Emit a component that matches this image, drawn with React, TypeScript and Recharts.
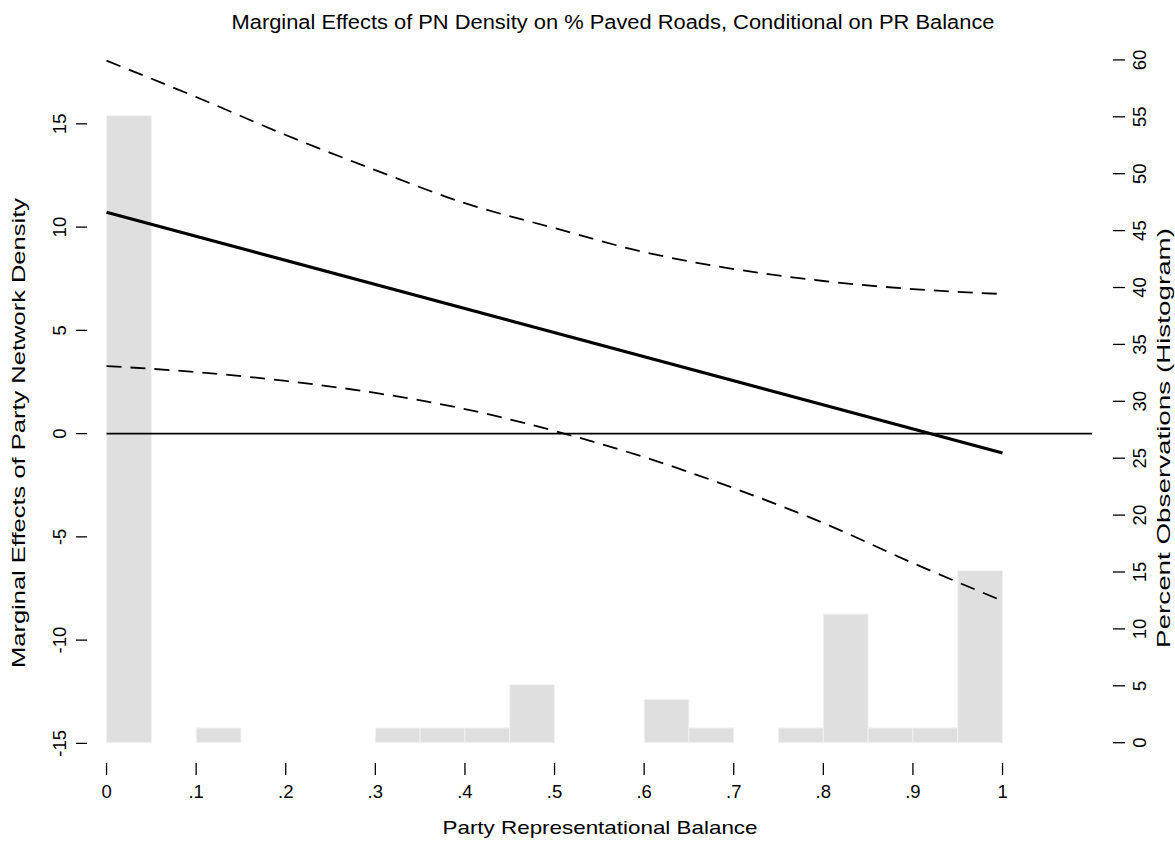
import React from "react";
import {
    ComposedChart,
    Line,
    XAxis,
    YAxis,
    ReferenceArea,
    ReferenceLine,
} from "recharts";

// marginal effect estimate and 95% bounds, read at steps of .1
const xPoints = [0, 0.1, 0.2, 0.3, 0.4, 0.5, 0.6, 0.7, 0.8, 0.9, 1];
const upperBound = [18.06, 16.3, 14.46, 12.76, 11.16, 9.95, 8.79, 7.97, 7.39, 7.0, 6.76];
const lowerBound = [3.27, 2.98, 2.55, 1.97, 1.19, 0.13, -1.14, -2.64, -4.33, -6.27, -8.1];
// straight line: only the two ends are needed
const effectEnds = [10.72, -0.94];

// histogram of PR balance (percent of observations per .05 bin)
const binStarts = [0, 0.1, 0.3, 0.35, 0.4, 0.45, 0.6, 0.65, 0.75, 0.8, 0.85, 0.9, 0.95];
const binPercents = [55.1, 1.3, 1.3, 1.3, 1.3, 5.1, 3.8, 1.3, 1.3, 11.3, 1.3, 1.3, 15.1];
const binWidth = 0.05;

const xTicks = [0, 0.1, 0.2, 0.3, 0.4, 0.5, 0.6, 0.7, 0.8, 0.9, 1];
const xTickLabels = ["0", ".1", ".2", ".3", ".4", ".5", ".6", ".7", ".8", ".9", "1"];
const leftTicks = [-15, -10, -5, 0, 5, 10, 15];
const rightTicks = [0, 5, 10, 15, 20, 25, 30, 35, 40, 45, 50, 55, 60];

const FONT = "'Liberation Sans', Arial, Helvetica, sans-serif";
const TICK_FONT = 18.5;

const rows = xPoints.map((x, i) => ({
    x,
    upper: upperBound[i],
    lower: lowerBound[i],
    effect: i === 0 ? effectEnds[0] : i === xPoints.length - 1 ? effectEnds[1] : null,
}));

function XTick({ x, payload }: any) {
    const idx = xTicks.indexOf(payload.value);
    return (
        <text x={x} y={791} textAnchor="middle" dominantBaseline="central" fontSize={TICK_FONT} fontFamily={FONT} fill="#000">
            {xTickLabels[idx]}
        </text>
    );
}

function LeftTick({ y, payload }: any) {
    return (
        <text
            transform={`translate(59, ${y}) rotate(-90)`}
            textAnchor="middle"
            dominantBaseline="central"
            fontSize={TICK_FONT}
            fontFamily={FONT}
            fill="#000"
        >
            {payload.value}
        </text>
    );
}

function RightTick({ y, payload }: any) {
    return (
        <text
            transform={`translate(1139, ${y}) rotate(-90)`}
            textAnchor="middle"
            dominantBaseline="central"
            fontSize={TICK_FONT}
            fontFamily={FONT}
            fill="#000"
        >
            {payload.value}
        </text>
    );
}

export default function App() {
    return (
        <div style={{ position: "absolute", left: 0, top: 0, width: 1175, height: 841, background: "#fff" }}>
            <ComposedChart width={1175} height={841} data={rows} margin={{ top: 40, right: 0, bottom: 0, left: 0 }}>
                {binStarts.map((s, i) => (
                    <ReferenceArea
                        key={s}
                        yAxisId="right"
                        x1={s}
                        x2={s + binWidth}
                        y1={0}
                        y2={binPercents[i]}
                        fill="#dfdfdf"
                        fillOpacity={1}
                        stroke="#f2f2f2"
                        strokeWidth={1}
                    />
                ))}
                <XAxis
                    type="number"
                    dataKey="x"
                    domain={[-0.0218, 1.1233]}
                    allowDataOverflow
                    ticks={xTicks}
                    height={78}
                    tickSize={12}
                    axisLine={false}
                    tickLine={{ stroke: "#000", strokeWidth: 1.3 }}
                    tick={<XTick />}
                />
                <YAxis
                    yAxisId="left"
                    domain={[-15.95, 19.06]}
                    allowDataOverflow
                    ticks={leftTicks}
                    width={87}
                    tickSize={11}
                    axisLine={false}
                    tickLine={{ stroke: "#000", strokeWidth: 1.3 }}
                    tick={<LeftTick />}
                />
                <YAxis
                    yAxisId="right"
                    orientation="right"
                    domain={[-1.784, 61.75]}
                    allowDataOverflow
                    ticks={rightTicks}
                    width={62}
                    tickSize={12}
                    axisLine={false}
                    tickLine={{ stroke: "#000", strokeWidth: 1.3 }}
                    tick={<RightTick />}
                />
                <ReferenceLine
                    yAxisId="left"
                    segment={[
                        { x: 0, y: 0 },
                        { x: 1.1, y: 0 },
                    ]}
                    stroke="#000"
                    strokeWidth={1.6}
                />
                <Line
                    yAxisId="left"
                    type="monotone"
                    dataKey="upper"
                    stroke="#000"
                    strokeWidth={1.8}
                    strokeDasharray="15 9"
                    dot={false}
                    activeDot={false}
                    isAnimationActive={false}
                />
                <Line
                    yAxisId="left"
                    type="monotone"
                    dataKey="lower"
                    stroke="#000"
                    strokeWidth={1.8}
                    strokeDasharray="15 9"
                    dot={false}
                    activeDot={false}
                    isAnimationActive={false}
                />
                <Line
                    yAxisId="left"
                    type="linear"
                    dataKey="effect"
                    connectNulls
                    stroke="#000"
                    strokeWidth={3.2}
                    dot={false}
                    activeDot={false}
                    isAnimationActive={false}
                />
            </ComposedChart>
            <svg
                width={1175}
                height={841}
                style={{ position: "absolute", left: 0, top: 0, pointerEvents: "none" }}
                fontFamily={FONT}
            >
                <text x={613} y={29} textAnchor="middle" fontSize={19.5} textLength={763} lengthAdjust="spacingAndGlyphs">
                    Marginal Effects of PN Density on % Paved Roads, Conditional on PR Balance
                </text>
                <text x={600} y={834} textAnchor="middle" fontSize={19} textLength={315} lengthAdjust="spacingAndGlyphs">
                    Party Representational Balance
                </text>
                <text
                    transform="translate(25, 433) rotate(-90)"
                    textAnchor="middle"
                    fontSize={19}
                    textLength={470}
                    lengthAdjust="spacingAndGlyphs"
                >
                    Marginal Effects of Party Network Density
                </text>
                <text
                    transform="translate(1170, 438) rotate(-90)"
                    textAnchor="middle"
                    fontSize={19}
                    textLength={420}
                    lengthAdjust="spacingAndGlyphs"
                >
                    Percent Observations (Histogram)
                </text>
            </svg>
        </div>
    );
}
